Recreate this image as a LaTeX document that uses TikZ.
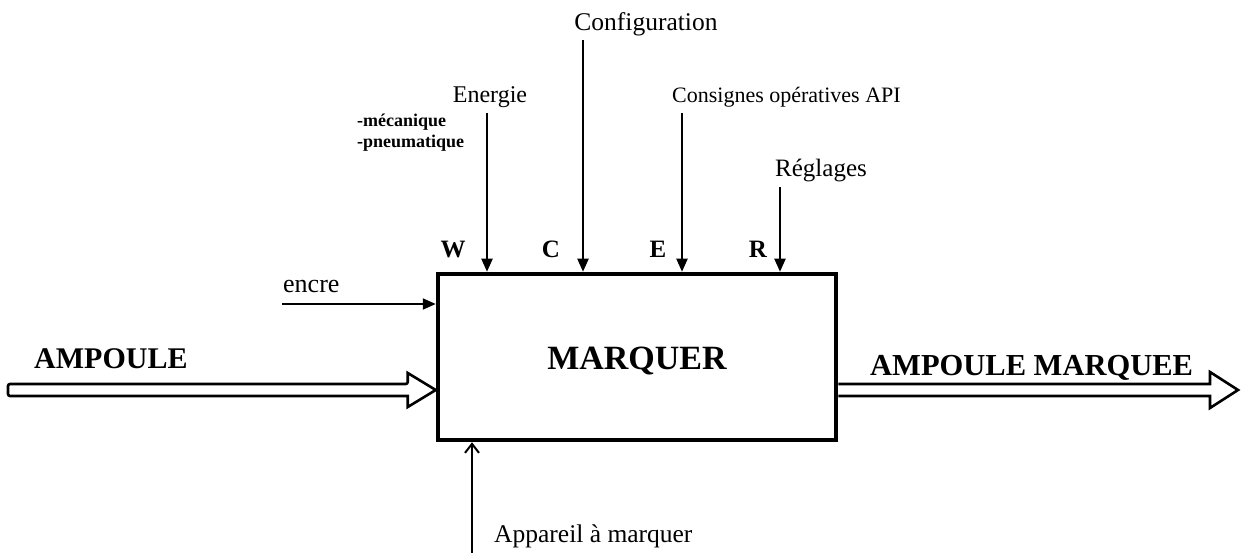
\documentclass[tikz,border=0pt]{standalone}
\usepackage{fontspec}
\setmainfont{Liberation Serif}
\usetikzlibrary{arrows.meta}
\newcommand{\fs}[1]{\fontsize{#1}{#1}\selectfont}
\tikzset{
  lbl/.style={inner sep=0pt, anchor=base},
  lblw/.style={inner sep=0pt, anchor=base west},
  inarr/.style={line width=2pt, -{Triangle[length=13pt,width=11pt]}},
  barb/.style={line width=2pt, -{Straight Barb[length=9pt,width=14pt,line width=2pt]}},
  hollow/.style={line width=2.6pt, line join=miter},
  boxst/.style={draw, line width=4.5pt, minimum width=398pt, minimum height=166pt, inner sep=0pt}
}
\begin{document}
\begin{tikzpicture}[x=1pt,y=-1pt]
\useasboundingbox (0,0) rectangle (1242,553);
% box
\node[boxst] (box) at (637,357) {};
\node[lbl] (marq) at (637,369) {\fs{34}\bfseries MARQUER};
% top labels
\node[lbl] (conf) at (646,31) {\fs{25.5}Configuration};
\node[lbl] (ener) at (490,103) {\fs{24}Energie};
\node[lblw] (cons) at (672,103) {\fs{22}Consignes opératives API};
\node[lblw] (regl) at (775,177) {\fs{25}Réglages};
\node[lblw] (meca) at (357,127) {\fs{18}\bfseries -mécanique};
\node[lblw] (pneu) at (357,148) {\fs{18}\bfseries -pneumatique};
\node[lbl] (W) at (453,258) {\fs{25}\bfseries W};
\node[lbl] (C) at (551,258) {\fs{25}\bfseries C};
\node[lbl] (E) at (658,258) {\fs{25}\bfseries E};
\node[lbl] (R) at (758,258) {\fs{25}\bfseries R};
% arrow starts
\coordinate (sW) at (487,113);
\coordinate (sC) at (583,40);
\coordinate (sE) at (682,113);
\coordinate (sR) at (780,187);
\draw[inarr] (sW) -- (sW |- box.north);
\draw[inarr] (sC) -- (sC |- box.north);
\draw[inarr] (sE) -- (sE |- box.north);
\draw[inarr] (sR) -- (sR |- box.north);
% encre
\node[lblw] (encre) at (283,293) {\fs{26}encre};
\coordinate (sInk) at (282,304);
\draw[inarr] (sInk) -- (sInk -| box.west);
% bottom
\node[lblw] (app) at (494,542) {\fs{25.5}Appareil à marquer};
\coordinate (sApp) at (472,553);
\draw[barb] (sApp) -- (sApp |- box.south);
% input double arrow
\node[lblw] (amp) at (34,368) {\fs{30}\bfseries AMPOULE};
\coordinate (ain) at (8,390);
\coordinate (aintip) at (box.west |- ain);
\draw[hollow, rounded corners=2pt] ([yshift=6pt]ain) -- ([xshift=-28pt,yshift=6pt]aintip)
  [sharp corners] -- ([xshift=-28pt,yshift=17pt]aintip) -- (aintip)
  -- ([xshift=-28pt,yshift=-17pt]aintip) -- ([xshift=-28pt,yshift=-6pt]aintip)
  [rounded corners=2pt] -- ([yshift=-6pt]ain) -- cycle;
% output double arrow
\node[lblw] (ampm) at (870,375) {\fs{30.5}\bfseries AMPOULE MARQUEE};
\coordinate (aout) at (box.east |- ain);
\coordinate (aouttip) at (1238,390);
\draw[hollow] ([yshift=6pt]aout) -- ([xshift=-28pt,yshift=6pt]aouttip)
  -- ([xshift=-28pt,yshift=18pt]aouttip) -- (aouttip)
  -- ([xshift=-28pt,yshift=-18pt]aouttip) -- ([xshift=-28pt,yshift=-6pt]aouttip)
  -- ([yshift=-6pt]aout);
\end{tikzpicture}
\end{document}
